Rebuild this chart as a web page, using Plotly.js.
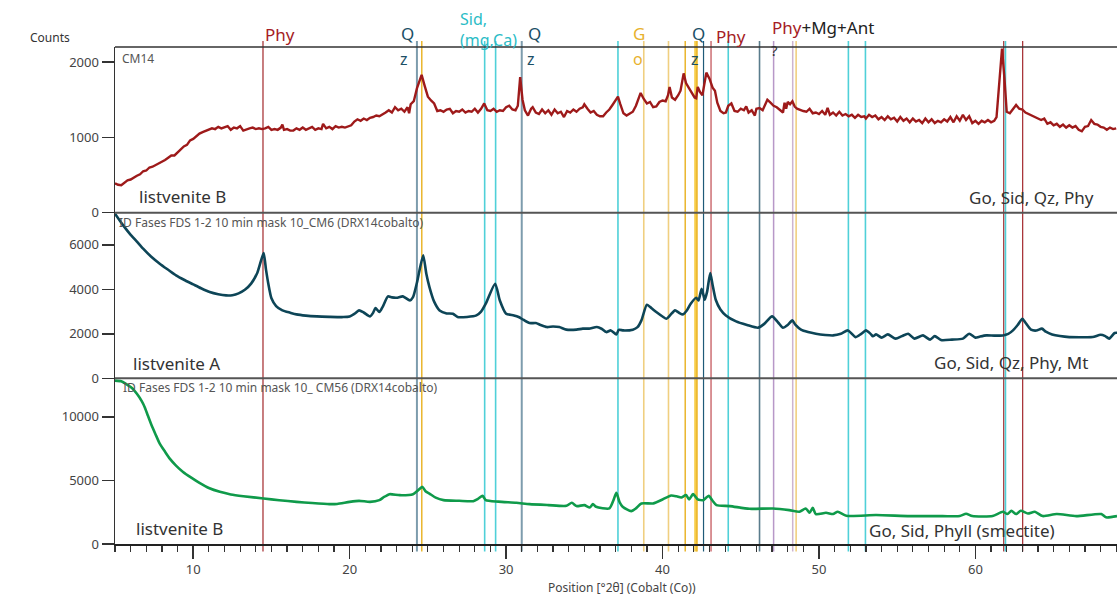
<!DOCTYPE html>
<html>
<head>
<meta charset="utf-8">
<script src="https://cdn.plot.ly/plotly-3.0.1.min.js"></script>
<style>html,body{margin:0;padding:0;background:#fff;}#chart{width:1117px;height:595px;}</style>
</head>
<body>
<div id="chart"></div>
<script>
// ---------- DATA ----------
// Top panel: CM14 (listvenite B), [2θ, counts]
var topPattern = [
[5.0,390],[5.2,370],[5.4,365],[5.6,400],[5.8,430],[6.0,440],[6.2,470],[6.4,490],[6.6,510],[6.8,550],[7.0,560],[7.2,600],[7.4,610],[7.6,630],[7.8,650],[8.0,670],[8.2,700],[8.4,730],[8.6,760],[8.8,760],[9.0,800],[9.2,830],[9.4,880],[9.6,900],[9.8,960],[10.0,980],[10.2,1020],[10.4,1050],[10.6,1070],[10.8,1090],[11.0,1100],[11.2,1120],[11.4,1110],[11.6,1140],[11.8,1120],[12.0,1130],[12.2,1150],[12.4,1100],[12.6,1130],[12.8,1120],[13.0,1150],[13.2,1090],[13.4,1110],[13.6,1120],[13.8,1130],[14.0,1110],[14.2,1120],[14.4,1110],[14.6,1120],[14.8,1140],[15.0,1100],[15.2,1110],[15.4,1100],[15.6,1130],[15.7,1170],[15.8,1100],[16.0,1110],[16.2,1090],[16.4,1090],[16.6,1120],[16.8,1100],[17.0,1130],[17.2,1100],[17.4,1120],[17.6,1140],[17.8,1100],[18.0,1120],[18.2,1110],[18.3,1180],[18.5,1120],[18.7,1140],[18.9,1110],[19.1,1150],[19.3,1130],[19.5,1140],[19.7,1130],[19.9,1150],[20.1,1160],[20.3,1210],[20.5,1240],[20.7,1220],[20.9,1250],[21.1,1230],[21.3,1260],[21.5,1270],[21.7,1290],[21.9,1280],[22.1,1300],[22.3,1330],[22.5,1360],[22.7,1330],[22.9,1400],[23.1,1360],[23.3,1380],[23.5,1340],[23.7,1400],[23.8,1320],[23.9,1440],[24.1,1480],[24.3,1650],[24.6,1830],[24.8,1680],[25.0,1540],[25.2,1490],[25.4,1450],[25.6,1350],[25.8,1360],[26.0,1340],[26.2,1370],[26.4,1380],[26.6,1320],[26.8,1350],[27.0,1340],[27.2,1370],[27.4,1330],[27.6,1350],[27.8,1340],[28.0,1380],[28.2,1330],[28.4,1380],[28.6,1450],[28.8,1360],[29.0,1350],[29.2,1380],[29.4,1340],[29.6,1360],[29.8,1350],[30.0,1400],[30.2,1420],[30.4,1370],[30.6,1360],[30.75,1420],[30.9,1800],[31.05,1500],[31.2,1360],[31.4,1290],[31.6,1380],[31.7,1400],[31.9,1330],[32.1,1310],[32.3,1370],[32.5,1320],[32.7,1360],[32.9,1300],[33.1,1370],[33.3,1320],[33.5,1340],[33.7,1270],[33.9,1350],[34.1,1330],[34.3,1370],[34.5,1340],[34.7,1380],[34.9,1400],[35.0,1440],[35.2,1380],[35.4,1330],[35.6,1350],[35.8,1300],[36.0,1280],[36.2,1280],[36.4,1330],[36.6,1370],[36.8,1430],[37.0,1500],[37.15,1540],[37.3,1440],[37.5,1320],[37.7,1290],[37.9,1310],[38.1,1340],[38.3,1420],[38.5,1540],[38.6,1590],[38.8,1510],[39.0,1450],[39.2,1470],[39.4,1400],[39.6,1410],[39.8,1470],[40.0,1490],[40.2,1480],[40.35,1560],[40.45,1670],[40.6,1530],[40.8,1500],[41.0,1560],[41.15,1620],[41.35,1850],[41.5,1720],[41.7,1650],[41.9,1580],[42.05,1530],[42.15,1520],[42.25,1670],[42.4,1600],[42.55,1560],[42.8,1860],[43.0,1780],[43.2,1660],[43.35,1620],[43.5,1460],[43.7,1350],[43.9,1320],[44.05,1330],[44.2,1420],[44.4,1450],[44.6,1350],[44.8,1340],[45.0,1380],[45.2,1360],[45.35,1410],[45.5,1330],[45.7,1360],[45.9,1290],[46.0,1380],[46.2,1390],[46.4,1360],[46.6,1440],[46.7,1500],[46.9,1460],[47.1,1420],[47.3,1400],[47.5,1370],[47.7,1330],[47.8,1460],[47.9,1380],[48.0,1470],[48.15,1440],[48.3,1480],[48.45,1410],[48.6,1380],[48.8,1360],[49.0,1350],[49.2,1340],[49.4,1380],[49.6,1320],[49.8,1330],[50.0,1310],[50.2,1350],[50.4,1300],[50.55,1390],[50.7,1300],[50.9,1330],[51.1,1290],[51.3,1340],[51.5,1290],[51.7,1310],[51.9,1280],[52.1,1300],[52.3,1260],[52.5,1300],[52.7,1270],[52.9,1280],[53.0,1250],[53.2,1300],[53.4,1270],[53.6,1290],[53.8,1240],[54.0,1270],[54.2,1230],[54.4,1280],[54.6,1240],[54.8,1260],[55.0,1210],[55.2,1270],[55.4,1220],[55.6,1250],[55.8,1200],[56.0,1250],[56.2,1210],[56.4,1230],[56.6,1190],[56.8,1250],[57.0,1200],[57.2,1240],[57.4,1190],[57.6,1220],[57.8,1200],[58.0,1240],[58.2,1210],[58.4,1270],[58.6,1200],[58.8,1280],[59.0,1220],[59.2,1300],[59.4,1230],[59.6,1280],[59.8,1190],[60.0,1220],[60.2,1180],[60.4,1220],[60.6,1200],[60.8,1230],[61.0,1200],[61.2,1220],[61.35,1270],[61.55,1800],[61.7,2180],[61.85,1800],[62.0,1340],[62.2,1320],[62.4,1370],[62.6,1430],[62.8,1380],[63.0,1370],[63.2,1330],[63.4,1310],[63.6,1300],[63.8,1280],[64.0,1260],[64.2,1230],[64.4,1250],[64.6,1180],[64.8,1200],[65.0,1160],[65.2,1180],[65.4,1140],[65.6,1170],[65.8,1130],[66.0,1160],[66.2,1130],[66.4,1150],[66.6,1100],[66.8,1080],[67.0,1140],[67.2,1150],[67.4,1230],[67.6,1180],[67.8,1170],[68.0,1140],[68.2,1130],[68.4,1100],[68.6,1130],[68.8,1110],[69.0,1120]
];
// Middle panel: CM6 (listvenite A)
var midPattern = [
[5.0,7400],[5.5,6900],[5.95,6500],[6.4,6150],[6.8,5830],[7.3,5480],[7.86,5155],[8.4,4880],[8.9,4630],[9.5,4400],[10.0,4225],[10.5,4050],[11.05,3880],[11.6,3780],[12.1,3730],[12.5,3740],[12.9,3820],[13.3,3980],[13.7,4260],[14.1,4750],[14.5,5630],[14.65,4900],[14.8,4255],[15.0,3600],[15.3,3250],[15.7,3055],[16.2,2950],[16.6,2875],[17.2,2820],[17.9,2785],[18.7,2765],[19.6,2755],[20.0,2785],[20.3,2900],[20.6,3055],[20.9,2960],[21.3,2785],[21.5,2950],[21.65,3160],[21.9,2980],[22.1,3200],[22.45,3685],[22.7,3640],[23.0,3625],[23.4,3685],[23.85,3505],[24.05,3650],[24.3,4300],[24.7,5530],[24.9,4700],[25.1,4105],[25.4,3450],[25.75,3055],[26.2,2920],[26.6,2905],[26.9,2755],[27.5,2760],[28.1,2830],[28.4,3000],[28.7,3355],[29.3,4255],[29.6,3500],[30.0,2905],[30.5,2830],[30.8,2760],[31.1,2635],[31.5,2485],[31.9,2485],[32.2,2400],[32.6,2305],[33.0,2330],[33.4,2305],[33.85,2190],[34.5,2190],[34.9,2235],[35.3,2235],[35.8,2305],[36.1,2230],[36.4,2080],[36.7,2155],[37.05,1975],[37.2,2180],[37.5,2155],[38.1,2190],[38.4,2300],[38.65,2605],[39.0,3310],[39.3,3150],[39.6,2980],[40.0,2780],[40.25,2680],[40.5,2850],[40.8,3055],[41.05,2950],[41.3,2875],[41.55,3050],[41.8,3355],[42.15,3625],[42.3,3505],[42.5,4030],[42.7,3535],[42.85,3900],[43.05,4735],[43.2,4200],[43.4,3535],[43.7,3100],[44.05,2830],[44.7,2560],[45.4,2400],[46.1,2275],[46.5,2450],[47.0,2785],[47.4,2500],[47.7,2275],[48.0,2400],[48.3,2605],[48.5,2400],[48.85,2190],[49.3,2080],[49.8,2005],[50.4,1950],[50.9,1930],[51.4,2000],[51.85,2155],[52.35,1855],[52.7,2000],[53.0,2155],[53.3,2000],[53.45,1890],[53.65,1975],[54.0,1830],[54.4,1975],[54.9,1785],[55.3,1900],[55.7,2005],[56.1,1785],[56.65,1930],[57.1,1740],[57.4,1900],[57.8,1720],[58.5,1740],[59.2,1785],[59.6,2005],[60.0,1830],[60.3,1880],[60.7,1930],[61.2,1920],[61.75,1930],[62.1,2000],[62.4,2155],[62.7,2400],[63.0,2680],[63.2,2500],[63.55,2190],[63.9,2150],[64.25,2235],[64.5,2100],[64.9,1975],[65.4,1900],[66.0,1855],[66.7,1850],[67.5,1855],[68.0,1960],[68.3,1900],[68.55,1785],[68.9,2040],[69.05,2050]
];
// Bottom panel: CM56 (listvenite B)
var botPattern = [
[5.0,12850],[5.4,12800],[5.7,12590],[6.1,12250],[6.4,11810],[6.7,11250],[6.9,10760],[7.1,10100],[7.3,9460],[7.6,8600],[7.86,7890],[8.2,7250],[8.5,6715],[8.9,6170],[9.35,5670],[9.9,5200],[10.4,4805],[11.0,4400],[11.7,4100],[12.4,3900],[13.2,3760],[14.5,3580],[15.5,3440],[16.6,3315],[17.6,3220],[18.7,3135],[19.2,3150],[20.0,3315],[20.6,3395],[21.3,3315],[21.9,3450],[22.2,3700],[22.55,3920],[23.2,3840],[24.05,3920],[24.35,4200],[24.65,4490],[24.85,4150],[25.1,3970],[25.5,3650],[26.0,3450],[27.0,3400],[27.9,3370],[28.2,3550],[28.5,3785],[28.7,3450],[29.5,3330],[30.65,3240],[31.5,3135],[32.7,3060],[33.85,3005],[34.2,3240],[34.5,2980],[35.0,3055],[35.35,2875],[35.55,3135],[35.75,2925],[36.6,2795],[36.85,3400],[37.05,4020],[37.25,3300],[37.45,2925],[38.0,2585],[38.3,2800],[38.65,3190],[39.4,3190],[40.0,3500],[40.55,3815],[40.9,3750],[41.2,3660],[41.5,3845],[41.7,3505],[41.95,3920],[42.25,3505],[42.6,3450],[42.95,3785],[43.2,3400],[43.45,3055],[44.3,2980],[45.55,2770],[47.05,2795],[48.1,2665],[48.75,2535],[49.15,2795],[49.4,2455],[49.6,2840],[49.8,2355],[50.45,2455],[50.9,2355],[51.2,2535],[51.75,2225],[53.65,2275],[55.8,2195],[57.9,2195],[59.0,2195],[59.4,2380],[59.8,2195],[61.1,2195],[61.75,2535],[62.05,2355],[62.3,2610],[62.6,2355],[62.9,2610],[63.35,2400],[63.8,2535],[64.3,2195],[65.2,2355],[66.45,2195],[68.05,2355],[68.35,2095],[69.05,2195]
];
// Reference phase lines (2θ) and their mineral
var phasePos = [14.46,24.3,24.61,28.63,29.33,31.0,37.15,38.8,40.38,41.45,42.12,42.2,42.62,43.1,44.2,46.2,47.1,48.32,48.54,51.88,52.97,61.81,61.92,63.02];
var phaseMin = ['Phy','Qz','Go','Sid','Sid','Qz','Sid','Go2','Go2','Go','GoB','Go','Mt','Phy2','Sid','Unk','Ant','Mg','Go2','Sid','Sid','Phy','Sid','Phy'];
// Tick values
var topTicks = [0,1000,2000];
var midTicks = [0,2000,4000,6000];
var botTicks = [0,5000,10000];
var xTickVals = [10,20,30,40,50,60];

// ---------- STYLES ----------
var phaseStyle = {
  Phy:{c:'#a3282c',w:1.2}, Phy2:{c:'#d0787c',w:1.6}, Qz:{c:'#7d9cad',w:2}, Go:{c:'#eab52c',w:1.5},
  Go2:{c:'#f0cf80',w:1.6}, GoB:{c:'#f7cd4a',w:3}, Sid:{c:'#4fd0d8',w:1.6}, Mt:{c:'#1e5a78',w:1.2},
  Unk:{c:'#5a7c8c',w:1.6}, Ant:{c:'#b898c8',w:1.5}, Mg:{c:'#cdb4d0',w:1.5}
};
function col(a,i){return a.map(function(p){return p[i];});}

var F = 'Noto Sans, sans-serif';
var traces = [
  {x:col(topPattern,0), y:col(topPattern,1), xaxis:'x', yaxis:'y', mode:'lines', line:{color:'#9e1a1a', width:2.4}, hoverinfo:'skip'},
  {x:col(midPattern,0), y:col(midPattern,1), xaxis:'x', yaxis:'y2', mode:'lines', line:{color:'#0d4557', width:2.6, shape:'spline', smoothing:0.6}, hoverinfo:'skip'},
  {x:col(botPattern,0), y:col(botPattern,1), xaxis:'x', yaxis:'y3', mode:'lines', line:{color:'#0f9a4a', width:2.6, shape:'spline', smoothing:0.6}, hoverinfo:'skip'}
];

var shapes = [];
phasePos.forEach(function(p,i){
  var s = phaseStyle[phaseMin[i]];
  shapes.push({type:'line', layer:'below', xref:'x', yref:'paper', x0:p, x1:p, y0:-0.015, y1:1.012, line:{color:s.c, width:s.w}});
});
[[1,'#333',1.5],[2/3,'#555',2],[1/3,'#555',2]].forEach(function(h){
  shapes.push({type:'line', xref:'paper', yref:'paper', x0:0, x1:1, y0:h[0], y1:h[0], line:{color:h[1], width:h[2]}});
});

function ann(text, x, y, opts){
  var a = {text:text, x:x, y:y, xref:'x', yref:'paper', showarrow:false, xanchor:'center', yanchor:'middle', font:{family:F, size:17, color:'#222'}};
  for (var k in opts) a[k]=opts[k];
  return a;
}
var RED='#a51c24', QC='#1c4f66', SC='#2bbcc6', GC='#e8b22e';
var annotations = [
  ann('Phy', 14.46, 1.026, {xanchor:'left', font:{family:F,size:17,color:RED}}),
  ann('Q', 23.7, 1.028, {font:{family:F,size:17,color:QC}}),
  ann('z', 23.5, 0.976, {font:{family:F,size:16,color:QC}}),
  ann('Sid,<br>(mg,Ca)', 26.9, 1.036, {xanchor:'left', align:'left', font:{family:F,size:16,color:SC}}),
  ann('Q', 31.8, 1.028, {font:{family:F,size:17,color:QC}}),
  ann('z', 31.6, 0.976, {font:{family:F,size:16,color:QC}}),
  ann('G', 38.47, 1.027, {font:{family:F,size:17,color:GC}}),
  ann('o', 38.44, 0.976, {font:{family:F,size:16,color:GC}}),
  ann('Q', 42.3, 1.028, {font:{family:F,size:17,color:QC}}),
  ann('z', 42.08, 0.976, {font:{family:F,size:16,color:QC}}),
  ann('Phy', 43.26, 1.022, {xanchor:'left', font:{family:F,size:17,color:RED}}),
  ann('<span style="color:'+RED+'">Phy</span>+Mg+Ant', 46.9, 1.04, {xanchor:'left', font:{family:F,size:17,color:'#222'}}),
  ann('?', 47.15, 0.994, {font:{family:F,size:15,color:'#333'}}),
  // panel texts
  {text:'Counts', xref:'paper', yref:'paper', x:-0.087, y:1.02, xanchor:'left', yanchor:'middle', showarrow:false, font:{family:F,size:12,color:'#333'}},
  {text:'CM14', xref:'paper', yref:'paper', x:0.005, y:0.976, xanchor:'left', yanchor:'middle', showarrow:false, font:{family:F,size:12,color:'#555'}},
  {text:'listvenite B', xref:'paper', yref:'paper', x:0.022, y:0.700, xanchor:'left', yanchor:'middle', showarrow:false, font:{family:F,size:17,color:'#333'}},
  {text:'Go, Sid, Qz, Phy', xref:'paper', yref:'paper', x:0.979, y:0.698, xanchor:'right', yanchor:'middle', showarrow:false, font:{family:F,size:17,color:'#333'}},
  {text:'ID Fases FDS 1-2 10 min mask 10_CM6 (DRX14cobalto)', xref:'paper', yref:'paper', x:0.002, y:0.646, xanchor:'left', yanchor:'middle', showarrow:false, font:{family:F,size:12,color:'#555'}},
  {text:'listvenite A', xref:'paper', yref:'paper', x:0.016, y:0.364, xanchor:'left', yanchor:'middle', showarrow:false, font:{family:F,size:17,color:'#333'}},
  {text:'Go, Sid, Qz, Phy, Mt', xref:'paper', yref:'paper', x:0.973, y:0.366, xanchor:'right', yanchor:'middle', showarrow:false, font:{family:F,size:17,color:'#333'}},
  {text:'ID Fases FDS 1-2 10 min mask 10_ CM56 (DRX14cobalto)', xref:'paper', yref:'paper', x:0.006, y:0.314, xanchor:'left', yanchor:'middle', showarrow:false, font:{family:F,size:12,color:'#555'}},
  {text:'listvenite B', xref:'paper', yref:'paper', x:0.019, y:0.032, xanchor:'left', yanchor:'middle', showarrow:false, font:{family:F,size:17,color:'#333'}},
  {text:'Go, Sid, Phyll (smectite)', xref:'paper', yref:'paper', x:0.940, y:0.028, xanchor:'right', yanchor:'middle', showarrow:false, font:{family:F,size:17,color:'#333'}},
  {text:'Position [°2θ] (Cobalt (Co))', xref:'paper', yref:'paper', x:0.506, y:-0.0885, xanchor:'center', yanchor:'middle', showarrow:false, font:{family:F,size:12,color:'#444'}}
];

function yax(domain, range, ticks){
  return {domain:domain, range:range, tickvals:ticks, ticktext:ticks.map(String), anchor:'x',
    showline:true, linecolor:'#333', linewidth:1.5, ticks:'outside', ticklen:12, tickwidth:1.5, tickcolor:'#333',
    showgrid:false, zeroline:false, fixedrange:true, tickfont:{family:F,size:13,color:'#444'}};
}

var layout = {
  width:1117, height:595,
  margin:{l:115, r:0, t:47, b:51, pad:0},
  paper_bgcolor:'#fff', plot_bgcolor:'#fff',
  showlegend:false,
  font:{family:F, color:'#333'},
  xaxis:{range:[5,69.05], anchor:'y3', tickvals:xTickVals, ticks:'outside', ticklen:13, tickwidth:1.5, tickcolor:'#333',
    showline:true, linecolor:'#222', linewidth:1.5, showgrid:false, zeroline:false, fixedrange:true,
    minor:{dtick:1, tick0:0, ticks:'outside', ticklen:6, tickwidth:1.2, tickcolor:'#333', showgrid:false},
    tickfont:{family:F,size:13,color:'#444'}},
  yaxis:yax([2/3,1],[0,2200],topTicks),
  yaxis2:yax([1/3,2/3],[0,7450],midTicks),
  yaxis3:yax([0,1/3],[0,13030],botTicks),
  shapes:shapes,
  annotations:annotations
};

Plotly.newPlot('chart', traces, layout, {displayModeBar:false, staticPlot:true});
</script>
</body>
</html>
